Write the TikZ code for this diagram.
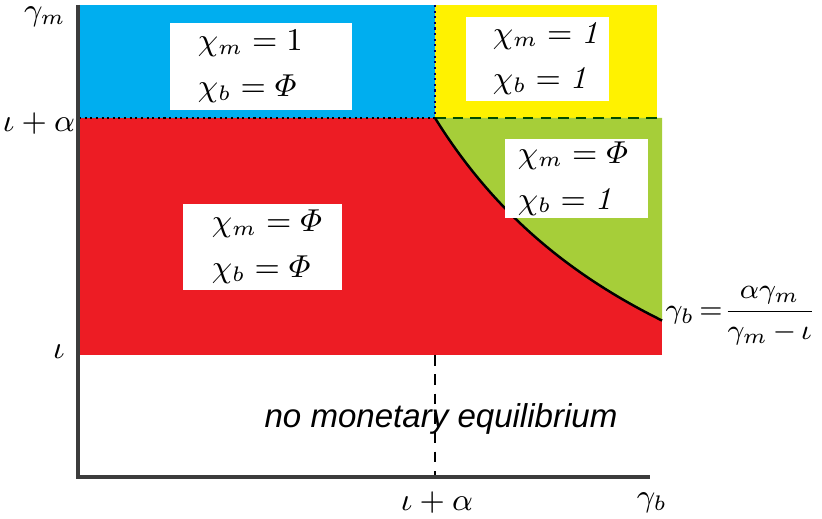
\documentclass[tikz,border=0pt]{standalone}
\usepackage{amsmath}
\usepackage[no-math]{fontspec}
\newfontfamily\arialfont{Liberation Sans}
\usetikzlibrary{positioning}
\definecolor{regblue}{RGB}{0,174,239}
\definecolor{regyellow}{RGB}{255,242,0}
\definecolor{regred}{RGB}{237,28,36}
\definecolor{reggreen}{RGB}{166,206,57}
\definecolor{axisgray}{RGB}{60,60,60}
\begin{document}
\begin{tikzpicture}[x=0.01cm,y=-0.01cm,
        regionbox/.style={fill=white,inner sep=0pt},
        chitext/.style={align=left,inner sep=0pt,font=\fontsize{9}{13}\selectfont},
        ticklabel/.style={inner sep=0pt,font=\fontsize{9}{11}\selectfont}]
        \useasboundingbox (0,0) rectangle (822,519);
        \coordinate (O) at (78,477);
        \coordinate (ytop) at (78,5);
        \coordinate (xend) at (650,477);
        \coordinate (topmid) at (435,5);
        \coordinate (corner) at (435,118);
        \coordinate (redleft) at (79,118);
        \coordinate (greenright) at (662,118);
        \coordinate (redbase) at (435,355);
        \coordinate (axisfoot) at (435,477);
        % regions
        \fill [regblue] (79,5) rectangle (corner);
        \fill [regyellow] (topmid) rectangle (657,118);
        \fill [regred] (redleft) rectangle (662,355);
        \fill [reggreen] (corner) -- (greenright) -- (662,320.5)
                -- plot [samples=100,domain=662:435] (\x,{572.8-1286.17/((\x-152.2)/100)}) -- cycle;
        % borders
        \draw [black,densely dotted,line width=0.6pt] (redleft) -- (corner);
        \draw [blue!40!black,densely dotted,line width=0.6pt] (topmid) -- (corner);
        \draw [green!30!black,densely dashed,line width=0.5pt] (corner) -- (greenright);
        \draw [black,line width=0.7pt,samples=100,domain=435:662] plot (\x,{572.8-1286.17/((\x-152.2)/100)});
        \draw [dash pattern=on 3pt off 2.5pt,line width=0.5pt] (redbase) -- (axisfoot);
        \draw [axisgray,line width=0.9pt] (ytop) -- (O) -- (xend);
        % boxes
        \node [regionbox,minimum width=1.82cm,minimum height=0.87cm] (boxBlue) at (261,66.5) {};
        \node [chitext,right=0.28cm of boxBlue.west] (chiBlue) {$\chi_m = 1$\\ $\chi_b = \varPhi$};
        \node [regionbox,minimum width=1.43cm,minimum height=0.84cm] (boxYellow) at (537.5,59) {};
        \node [chitext,right=0.27cm of boxYellow.west] (chiYellow) {$\chi_m = \mathit{1}$\\ $\chi_b = \mathit{1}$};
        \node [regionbox,minimum width=1.43cm,minimum height=0.79cm] (boxGreen) at (576.5,178.5) {};
        \node [chitext,right=0.13cm of boxGreen.west] (chiGreen) {$\chi_m = \varPhi$\\ $\chi_b = \mathit{1}$};
        \node [regionbox,minimum width=1.59cm,minimum height=0.86cm] (boxRed) at (262.5,247) {};
        \node [chitext,right=0.29cm of boxRed.west] (chiRed) {$\chi_m = \varPhi$\\ $\chi_b = \varPhi$};
        \node [anchor=base,inner sep=0pt,font=\arialfont\itshape\fontsize{9.4}{11}\selectfont] (nomon) at (441,427) {no monetary equilibrium};
        % axis labels
        \node [ticklabel] (gmlabel) at (45,17) {$\gamma_m$};
        \node [ticklabel] (ialeft) at (39,124) {$\iota+\alpha$};
        \node [ticklabel] (ileft) at (59,352) {$\iota$};
        \node [ticklabel] (iabottom) at (437,503) {$\iota+\alpha$};
        \node [ticklabel] (gblabel) at (652,503) {$\gamma_b$};
        \node [ticklabel,anchor=west,font=\fontsize{8.5}{10}\selectfont] (curvelabel) at (665,316)
                {\nulldelimiterspace=0pt$\gamma_b\,{=}\,\dfrac{\alpha\gamma_m}{\gamma_m\,{-}\,\iota}$};
\end{tikzpicture}
\end{document}
